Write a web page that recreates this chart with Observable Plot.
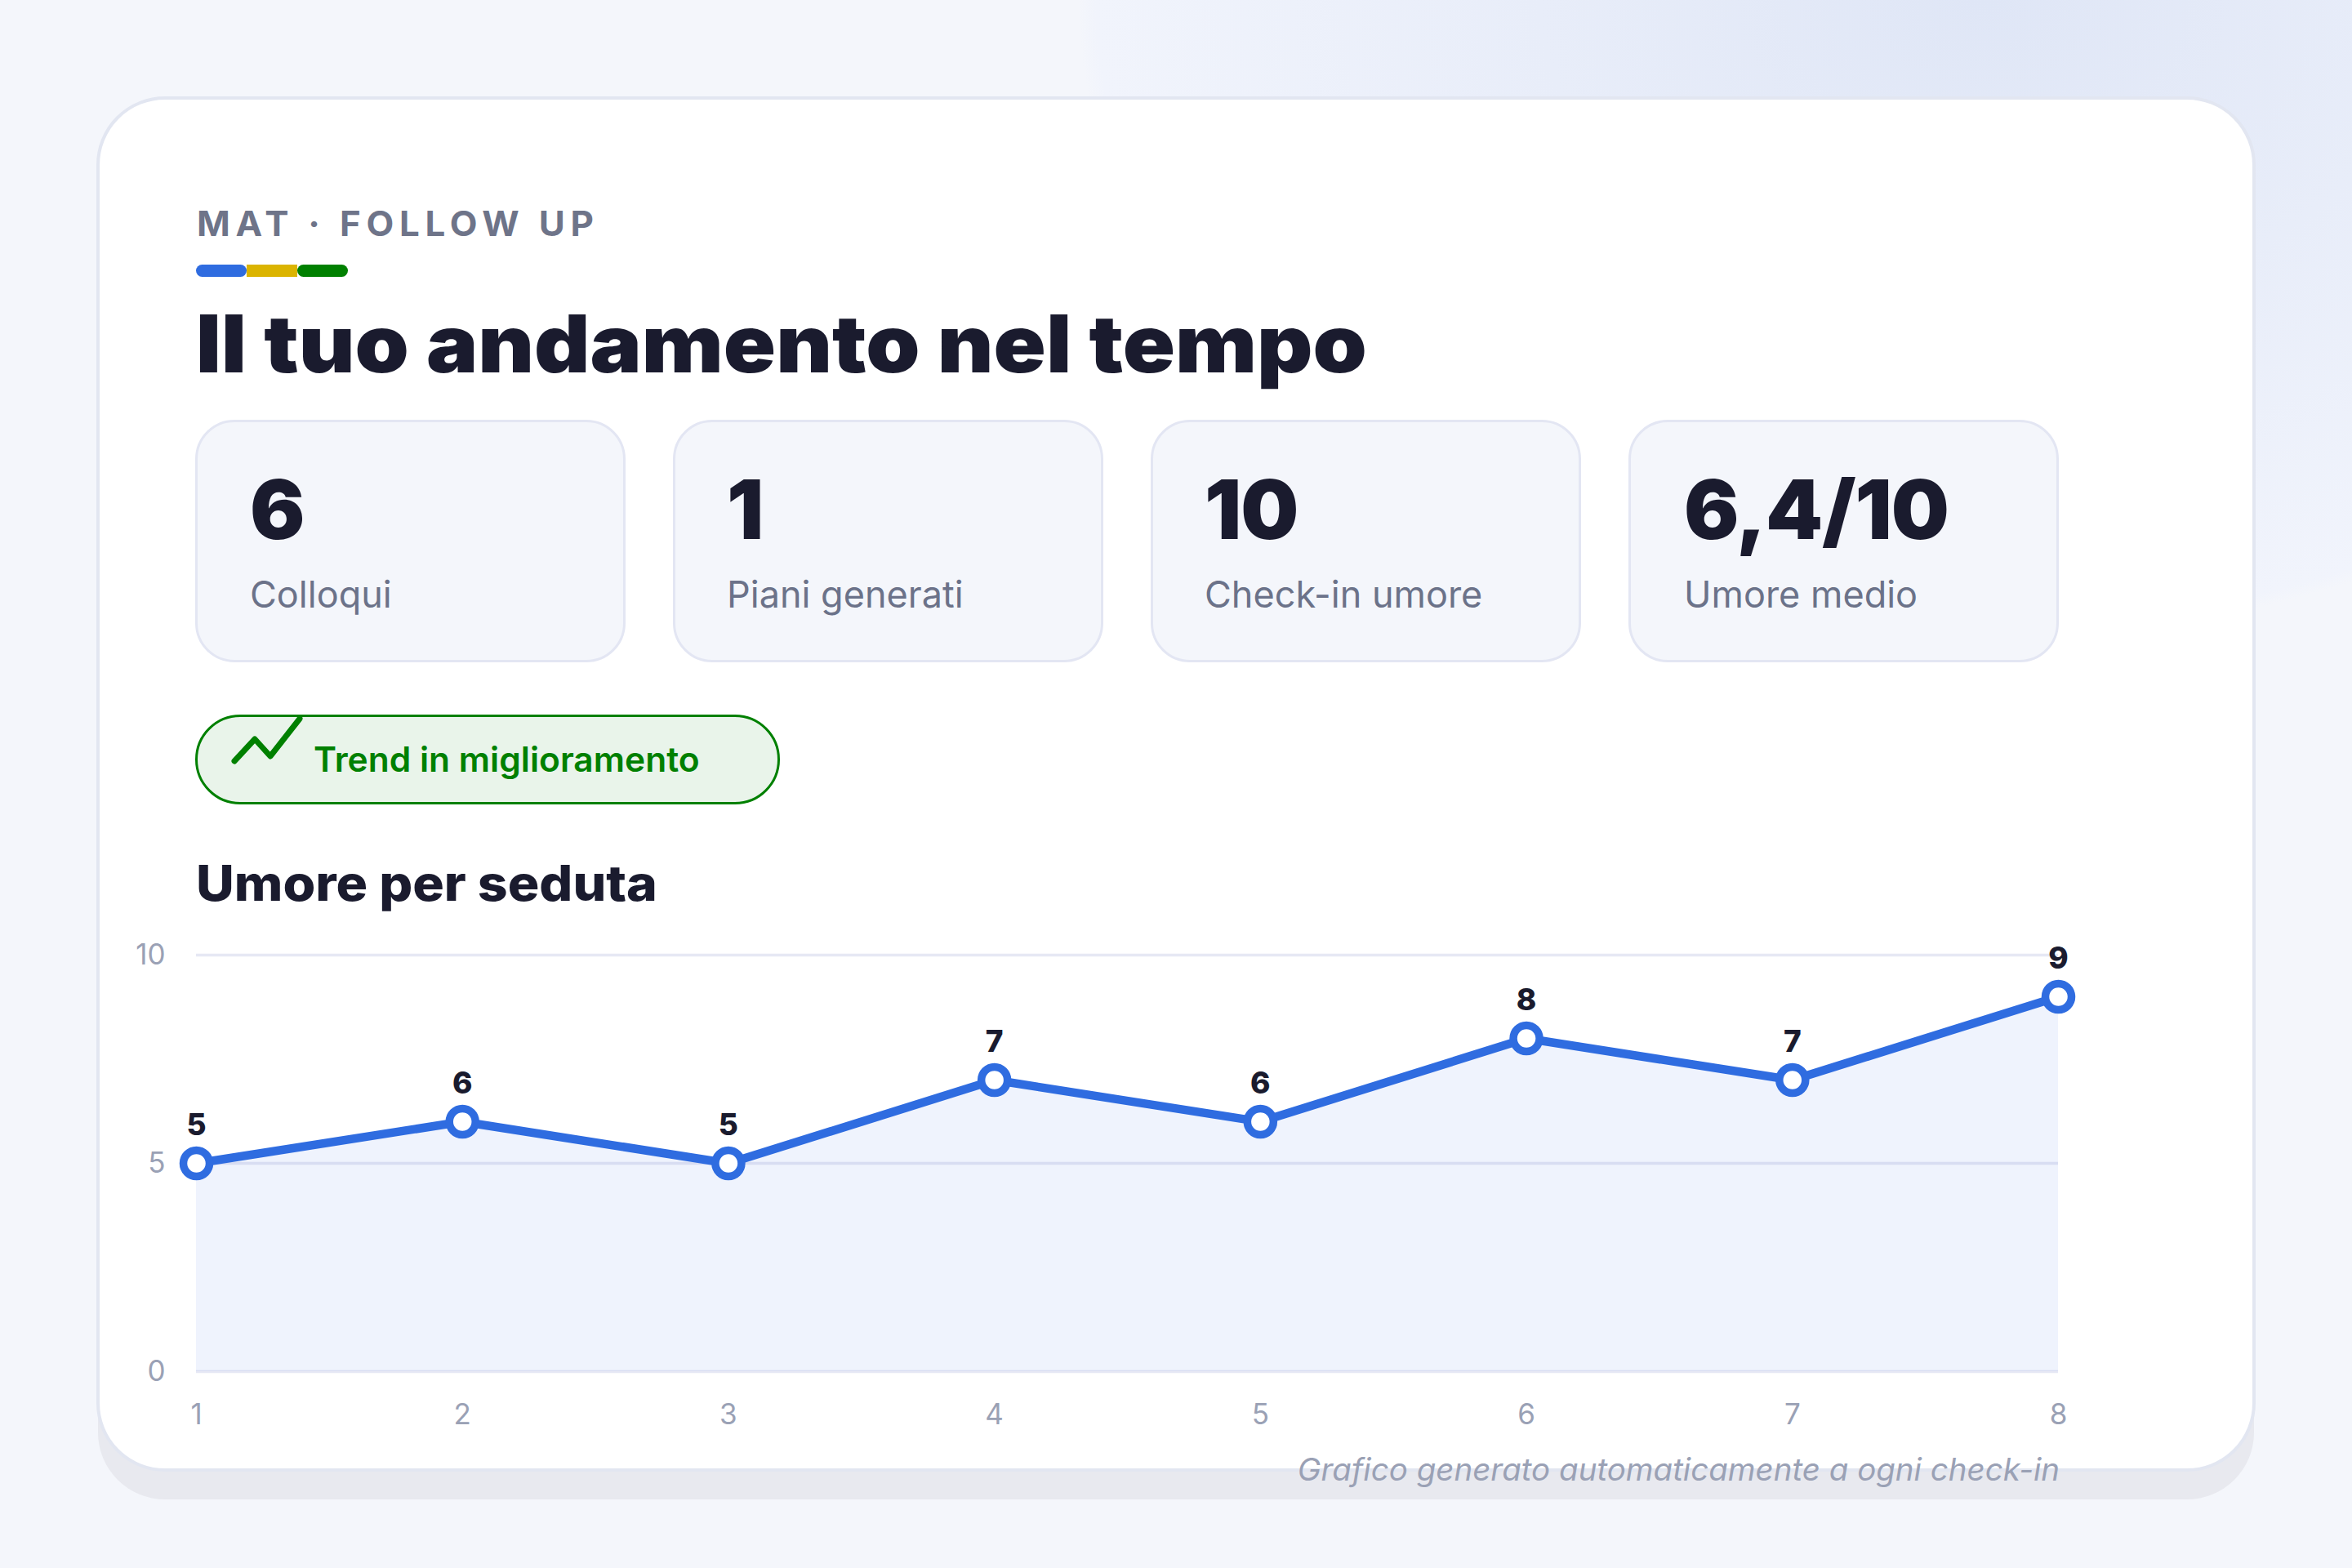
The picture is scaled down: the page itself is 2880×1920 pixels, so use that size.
<!DOCTYPE html>
<html lang="it"><head><meta charset="utf-8">
<script src="https://cdn.jsdelivr.net/npm/d3@7"></script>
<script src="https://cdn.jsdelivr.net/npm/@observablehq/plot@0.6"></script>
<style>
html,body{margin:0;padding:0;width:2880px;height:1920px;overflow:hidden;background:#f4f6fb;font-family:Inter,sans-serif}
#bg{position:absolute;inset:0;background:radial-gradient(ellipse 1110px 780px at 2430px 0px,#dfe6f6 0%,#f1f4fc 98%,#f4f6fb 100%)}
#card{position:absolute;left:118px;top:118px;width:2644px;height:1684px;box-sizing:border-box;background:#fff;border:4px solid #e2e6f1;border-radius:84px;box-shadow:0 36px 0 -2px #e8e9ef}
.t{position:absolute;white-space:nowrap;line-height:1;transform-origin:left center}
#eyebrow{left:241px;top:253px;font-size:42px;font-weight:700;letter-spacing:6.5px;color:#6e7489;transform:scaleX(1.043)}
#title{left:240px;top:372px;font-size:98px;font-weight:900;color:#1a1b2e;transform:scaleX(1.082)}
#sub{left:240px;top:1051px;font-size:60px;font-weight:800;color:#1a1b2e;transform:scaleX(1.072)}
.bar{position:absolute;top:324px;height:15px;width:62px}
.stat{position:absolute;top:514px;width:527px;height:297px;box-sizing:border-box;background:#f4f6fb;border:3.5px solid #e3e6f3;border-radius:48px}
.num{position:absolute;top:57px;font-size:100px;font-weight:900;letter-spacing:-1px;color:#1a1b2e;line-height:1;white-space:nowrap}
.lab{position:absolute;top:188px;font-size:45px;color:#6b7289;line-height:1;white-space:nowrap}
#pill{position:absolute;left:239px;top:875px;width:716px;height:110px;box-sizing:border-box;background:#e9f4ea;border:3px solid #008000;border-radius:55px}
#pilltxt{left:384px;top:909px;font-size:42.5px;font-weight:600;color:#008000}
#icon{position:absolute;left:0;top:0}
#chart{position:absolute;left:0;top:1100px}
#cap{right:358px;top:1780px;font-size:38.5px;font-style:italic;color:#9aa1b5}
</style></head><body>
<div id="bg"></div><div id="card"></div>
<div class="t" id="eyebrow">MAT · FOLLOW UP</div>
<div class="bar" style="left:240px;background:#2f6ce0;border-radius:8px"></div>
<div class="bar" style="left:302px;background:#dbb400"></div>
<div class="bar" style="left:364px;background:#008000;border-radius:8px"></div>
<div class="t" id="title">Il tuo andamento nel tempo</div>
<div id="stats"></div>
<div id="pill"></div>
<svg id="icon" width="2880" height="1000"><polyline points="287,932 312,905 331,926 367,880" fill="none" stroke="#008000" stroke-width="7" stroke-linecap="round" stroke-linejoin="round"/></svg>
<div class="t" id="pilltxt">Trend in miglioramento</div>
<div class="t" id="sub">Umore per seduta</div>
<div id="chart"></div>
<div class="t" id="cap">Grafico generato automaticamente a ogni check-in</div>
<script>
const sessions=[1,2,3,4,5,6,7,8];
const mood=[5,6,5,7,6,8,7,9];
const yTicks=[0,5,10];
const statValues=["6","1","10","6,4/10"];
const statLabels=["Colloqui","Piani generati","Check-in umore","Umore medio"];
const statLeft=[239,824,1409,1994];
const statPad=[64,63,63,65];
const rows=sessions.map((s,i)=>({s,m:mood[i]}));
const holder=document.getElementById("stats");
statValues.forEach((v,i)=>{
  const d=document.createElement("div");d.className="stat";d.style.left=statLeft[i]+"px";
  d.innerHTML=`<div class="num" style="left:${statPad[i]}px">${v}</div><div class="lab" style="left:${statPad[i]}px">${statLabels[i]}</div>`;
  holder.appendChild(d);
});
const blue="#2f6ce0",grid="#e6e8f4",tick="#9aa1b5";
const fig=Plot.plot({
  width:2880,height:720,marginLeft:240,marginRight:360,marginTop:69,marginBottom:141,
  style:{background:"transparent",overflow:"visible",fontFamily:"Inter,sans-serif"},
  x:{domain:[1,8],label:null},
  y:{domain:[0,10],label:null},
  marks:[
    Plot.ruleY(yTicks,{stroke:grid,strokeWidth:3.5}),
    Plot.areaY(rows,{x:"s",y:"m",fill:blue,fillOpacity:0.08}),
    Plot.lineY(rows,{x:"s",y:"m",stroke:blue,strokeWidth:10.5,strokeLinejoin:"round"}),
    Plot.dot(rows,{x:"s",y:"m",r:16,fill:"#fff",stroke:blue,strokeWidth:9.5}),
    Plot.text(rows,{x:"s",y:"m",text:d=>String(d.m),dy:-46,fontSize:37,fontWeight:800,fill:"#1a1b2e"}),
    Plot.axisX({ticks:sessions,tickSize:0,tickPadding:40,fontSize:35,fontWeight:400,fontVariant:"normal",fill:tick,tickFormat:d=>String(d),label:null}),
    Plot.axisY({ticks:yTicks,tickSize:0,tickPadding:38,fontSize:35,fontWeight:400,fontVariant:"normal",fill:tick,label:null})
  ]
});
document.getElementById("chart").appendChild(fig);
</script></body></html>
